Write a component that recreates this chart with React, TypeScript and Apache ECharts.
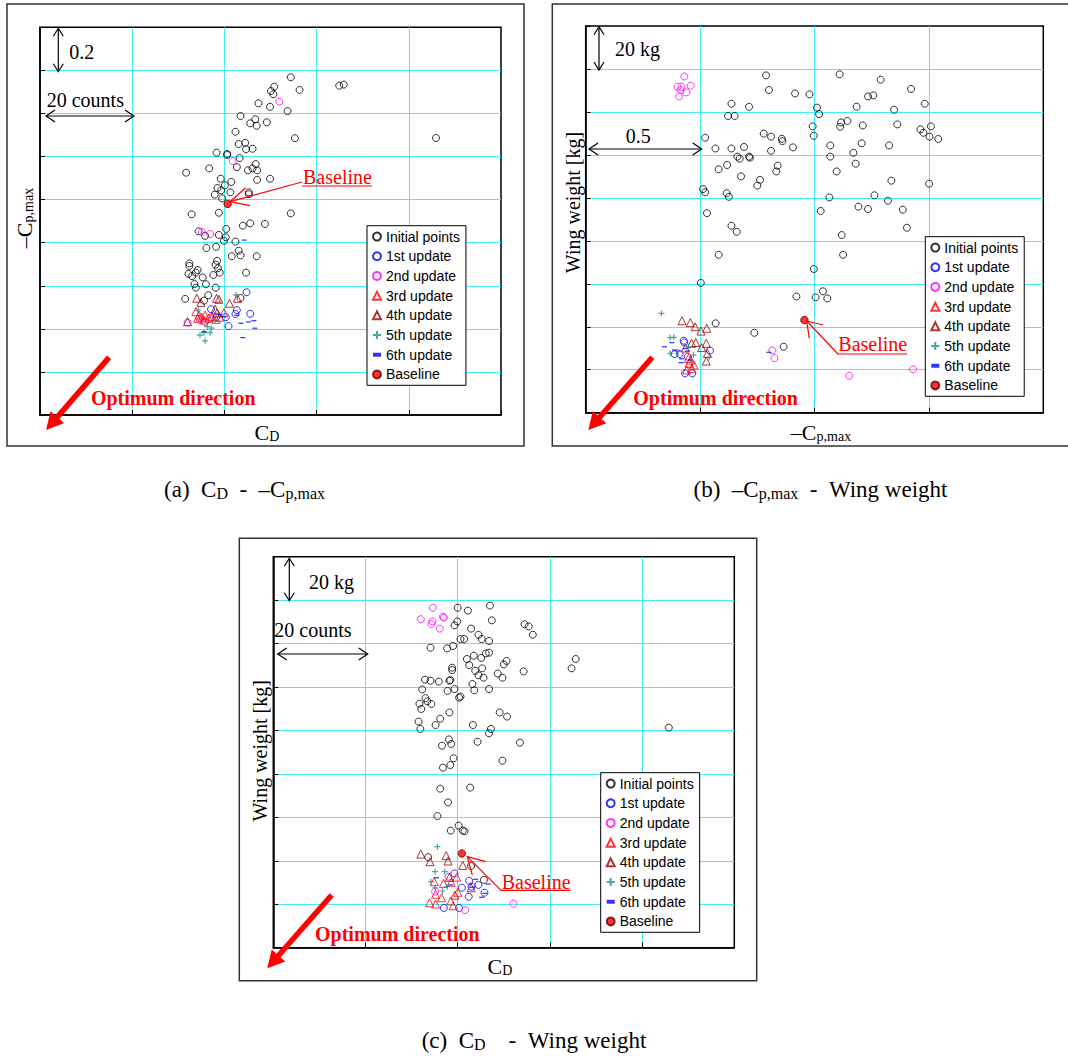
import React, { useEffect, useRef } from 'react';
import * as echarts from 'echarts';

const legendNames = ['Initial points', '1st update', '2nd update', '3rd update', '4th update', '5th update', '6th update', 'Baseline'];

// ---------- (a) CD [counts] vs -Cp,max ----------
const aInitial = [
  [54.4, 1.568], [50.8, 1.524], [50.1, 1.504], [50.6, 1.489], [56.3, 1.509], [64.9, 1.529], [65.9, 1.534],
  [47.4, 1.447], [49.9, 1.431], [53.7, 1.411], [43.5, 1.388], [45.6, 1.354], [46.7, 1.373], [47.0, 1.343],
  [49.2, 1.359], [42.4, 1.315], [55.3, 1.285], [85.9, 1.286], [43.1, 1.258], [44.5, 1.264], [44.7, 1.234],
  [46.1, 1.236], [38.3, 1.218], [40.6, 1.212], [40.6, 1.207], [43.3, 1.193], [46.8, 1.165], [42.7, 1.151],
  [45.1, 1.136], [46.1, 1.145], [47.1, 1.136], [31.7, 1.125], [36.7, 1.145], [49.9, 1.097], [47.1, 1.092],
  [39.2, 1.097], [41.5, 1.082], [40.1, 1.066], [38.5, 1.054], [39.3, 1.043], [41.3, 1.034], [37.9, 1.023],
  [45.3, 1.034], [45.3, 1.025], [39.5, 1.006], [32.9, 0.932], [38.8, 0.939], [54.4, 0.936], [44.0, 0.879],
  [45.6, 0.890], [48.8, 0.887], [34.4, 0.853], [35.8, 0.832], [38.8, 0.836], [40.4, 0.864], [39.9, 0.809],
  [40.3, 0.825], [42.4, 0.805], [38.2, 0.781], [36.1, 0.775], [43.1, 0.763], [43.5, 0.741], [41.6, 0.737],
  [47.0, 0.737], [38.4, 0.716], [32.4, 0.704], [32.4, 0.692], [38.1, 0.698], [34.2, 0.673], [32.2, 0.655],
  [33.8, 0.661], [33.0, 0.645], [38.6, 0.681], [39.0, 0.661], [37.6, 0.650], [35.3, 0.639], [44.7, 0.661],
  [33.5, 0.608], [33.8, 0.591], [36.0, 0.607], [38.1, 0.591], [36.5, 0.556], [35.6, 0.531], [31.5, 0.539],
  [43.5, 0.543],
];
const aUpdate1 = [[44.8, 0.570], [42.7, 0.487], [45.6, 0.470], [40.9, 0.413], [40.3, 0.454], [42.4, 0.469], [37.1, 0.491], [38.2, 0.452]];
const aUpdate2 = [[51.9, 1.455], [41.8, 1.179], [35.1, 0.850], [36.9, 0.840], [32.0, 0.429], [34.7, 0.441], [35.8, 0.432], [36.9, 0.450]];
const aUpdate3 = [[33.8, 0.480], [34.5, 0.464], [35.1, 0.454], [35.8, 0.464], [36.6, 0.449], [37.3, 0.456], [38.2, 0.444], [39.0, 0.454], [39.9, 0.475], [34.2, 0.449], [35.6, 0.441]];
const aUpdate4 = [[34.0, 0.542], [34.9, 0.523], [38.3, 0.542], [38.8, 0.537], [41.1, 0.519], [42.8, 0.542], [38.0, 0.491], [32.0, 0.433], [38.4, 0.474]];
const aUpdate5 = [[34.3, 0.487], [36.3, 0.410], [37.2, 0.403], [36.9, 0.382], [35.6, 0.382], [34.7, 0.371], [35.8, 0.344], [42.5, 0.557], [38.0, 0.441]];
const aUpdate6 = [[44.3, 0.812], [43.6, 0.426], [45.2, 0.432], [46.4, 0.438], [46.6, 0.403], [44.0, 0.359], [39.0, 0.466], [35.6, 0.387], [42.7, 0.463], [39.9, 0.456]];
const aBaseline = [[40.7, 0.980]];

// ---------- (b) -Cp,max vs Wing weight [kg] ----------
const bInitial = [
  [0.788, 157.0], [1.110, 157.5], [1.289, 155.0], [0.801, 150.2], [0.915, 148.6], [0.978, 148.2], [1.422, 150.7],
  [1.234, 147.2], [1.257, 147.7], [0.637, 143.8], [0.714, 142.4], [0.622, 138.1], [0.651, 138.1], [1.011, 142.0],
  [1.020, 139.0], [1.184, 142.4], [1.348, 141.0], [1.482, 143.8], [0.992, 133.3], [0.997, 128.9], [1.112, 133.1],
  [1.116, 135.1], [1.144, 135.8], [1.211, 133.7], [1.362, 134.2], [1.509, 133.3], [1.463, 131.9], [1.476, 130.3],
  [1.503, 128.5], [1.541, 127.4], [0.522, 128.0], [0.567, 123.0], [0.637, 123.0], [0.692, 123.7], [0.663, 119.2],
  [0.673, 118.2], [0.714, 119.2], [0.718, 118.7], [0.778, 129.9], [0.810, 128.5], [0.810, 121.9], [0.857, 127.5],
  [0.860, 126.4], [0.906, 123.5], [0.839, 115.0], [0.833, 112.3], [0.618, 115.3], [0.581, 113.3], [0.679, 110.0],
  [0.762, 108.4], [0.750, 105.7], [1.069, 124.4], [1.069, 119.2], [1.206, 125.4], [1.170, 121.0], [1.180, 115.9],
  [1.326, 124.4], [1.097, 112.3], [1.501, 106.6], [1.336, 108.0], [0.513, 104.1], [0.522, 102.6], [0.616, 102.2],
  [0.626, 100.5], [0.530, 92.9], [0.637, 87.0], [0.660, 84.2], [0.581, 73.5], [1.065, 100.2], [1.027, 93.9],
  [1.262, 101.2], [1.321, 98.7], [1.192, 95.9], [1.234, 94.8], [1.386, 94.5], [1.404, 86.1], [1.119, 82.7],
  [1.125, 73.5], [0.997, 66.9], [0.503, 60.4], [0.921, 54.1], [1.005, 53.7], [1.037, 56.5], [1.056, 53.2],
  [0.568, 41.6], [0.737, 37.2], [0.865, 30.7],
];
const bUpdate1 = [[0.428, 33.5], [0.431, 32.7], [0.389, 27.3], [0.411, 27.3], [0.543, 28.9], [0.434, 18.3], [0.466, 18.3], [0.446, 26.1]];
const bUpdate2 = [[0.431, 156.5], [0.402, 151.7], [0.418, 151.7], [0.459, 152.2], [0.415, 150.2], [0.440, 149.1], [0.408, 147.2], [0.816, 29.0], [0.825, 25.4], [1.152, 17.2], [1.431, 20.2]];
const bUpdate3 = [[0.436, 30.1], [0.449, 25.3], [0.459, 24.5], [0.473, 22.2], [0.441, 19.9], [0.463, 20.6], [0.452, 23.0]];
const bUpdate4 = [[0.421, 42.8], [0.457, 41.9], [0.478, 40.0], [0.504, 38.0], [0.529, 39.3], [0.481, 32.7], [0.527, 32.3], [0.507, 30.3], [0.532, 27.6], [0.527, 24.0], [0.463, 32.3]];
const bUpdate5 = [[0.331, 46.2], [0.369, 34.9], [0.385, 35.1], [0.402, 28.4], [0.370, 27.6], [0.471, 26.8], [0.540, 25.8], [0.449, 30.7]];
const bUpdate6 = [[0.344, 30.7], [0.376, 32.6], [0.388, 29.2], [0.420, 25.1], [0.417, 23.3], [0.444, 28.7], [0.459, 24.5], [0.801, 28.1], [0.434, 29.9]];
const bBaseline = [[0.956, 43.1]];

// ---------- (c) CD [counts] vs Wing weight [kg] ----------
const cInitial = [
  [40.0, 156.5], [42.2, 155.2], [47.0, 157.5], [47.4, 150.7], [39.3, 148.4], [39.9, 150.2], [42.9, 146.9],
  [44.5, 144.0], [45.2, 142.1], [46.8, 141.2], [40.6, 142.1], [41.4, 142.1], [54.5, 148.9], [55.4, 147.9],
  [56.3, 144.1], [34.1, 138.1], [37.7, 137.8], [39.0, 138.9], [42.0, 132.9], [43.5, 134.4], [42.5, 130.1],
  [45.1, 133.4], [46.1, 135.5], [46.8, 135.8], [45.3, 128.6], [43.8, 127.5], [44.5, 125.4], [45.6, 124.3],
  [38.8, 128.9], [38.8, 127.8], [50.0, 130.4], [50.6, 132.0], [54.3, 127.2], [48.7, 126.2], [49.7, 124.3],
  [64.7, 128.6], [65.6, 132.9], [32.9, 123.4], [34.1, 122.9], [35.9, 122.5], [38.2, 122.9], [38.4, 123.2],
  [32.3, 118.9], [37.8, 118.2], [39.3, 119.1], [43.2, 121.4], [43.6, 118.5], [46.8, 119.1], [40.6, 115.6],
  [40.3, 115.1], [33.0, 114.9], [33.4, 113.4], [31.7, 112.3], [32.1, 109.9], [34.3, 112.2], [38.2, 108.3],
  [49.1, 108.3], [50.7, 106.4], [31.5, 104.1], [31.9, 100.7], [36.2, 105.4], [35.2, 102.5], [43.3, 102.5],
  [47.2, 100.7], [46.8, 98.7], [85.8, 101.3], [38.1, 95.9], [38.6, 93.8], [36.6, 93.0], [44.3, 94.8],
  [53.5, 94.4], [39.1, 87.2], [38.4, 84.1], [36.8, 82.9], [49.7, 86.1], [36.2, 73.2], [42.7, 73.7],
  [37.9, 66.9], [35.6, 60.6], [40.2, 56.2], [38.5, 53.9], [41.1, 53.9], [41.5, 53.6], [33.6, 41.7],
  [42.9, 37.6], [45.7, 31.2],
];
const cUpdate1 = [[39.3, 34.2], [42.5, 30.8], [40.9, 27.6], [44.5, 28.9], [45.8, 25.3], [42.4, 23.5], [37.0, 18.3], [40.3, 18.3], [43.0, 28.1]];
const cUpdate2 = [[34.6, 156.5], [32.0, 151.2], [34.3, 149.0], [34.5, 150.2], [36.8, 152.4], [37.0, 151.9], [36.1, 146.9], [35.1, 25.8], [41.6, 17.3], [52.1, 20.3], [38.0, 32.7]];
const cUpdate3 = [[34.9, 30.4], [36.9, 29.6], [38.6, 30.1], [39.8, 32.5], [35.2, 24.6], [36.5, 23.0], [33.9, 20.7], [35.2, 20.1], [38.5, 21.5], [39.0, 19.3], [40.0, 25.5]];
const cUpdate4 = [[32.0, 43.1], [34.0, 39.6], [37.5, 42.4], [37.9, 39.9], [41.1, 37.9], [38.2, 32.4], [42.9, 27.6], [39.4, 24.2]];
const cUpdate5 = [[35.6, 46.5], [35.1, 35.0], [37.2, 35.0], [34.2, 30.4], [35.1, 27.6], [36.7, 26.1], [37.7, 28.1]];
const cUpdate6 = [[35.4, 32.2], [43.9, 31.5], [46.6, 29.3], [45.2, 23.2], [45.9, 25.0], [38.5, 28.9], [43.2, 27.8]];
const cBaseline = [[40.9, 43.4]];

// axis ranges (no tick labels are shown in the figure)
const cdAxis = { min: 0, max: 100, interval: 20 };
const cpAxisA = { min: 0, max: 1.8, interval: 0.2 };
const cpAxisB = { min: 0, max: 2.0, interval: 0.5 };
const wAxis = { min: 0, max: 180, interval: 20 };

const SERIF = 'Liberation Serif';
const SANS = 'Liberation Sans';
const SP = '\u2002';

const seriesStyles: any[] = [
  { symbol: 'circle', symbolSize: 7, itemStyle: { color: 'rgba(255,255,255,0)', borderColor: '#000000', borderWidth: 1 } },
  { symbol: 'circle', symbolSize: 7, itemStyle: { color: 'rgba(255,255,255,0)', borderColor: '#0000ff', borderWidth: 1 } },
  { symbol: 'circle', symbolSize: 7, itemStyle: { color: 'rgba(255,255,255,0)', borderColor: '#ff00ff', borderWidth: 1 } },
  { symbol: 'triangle', symbolSize: 8, itemStyle: { color: 'rgba(255,255,255,0)', borderColor: '#ff0000', borderWidth: 1 } },
  { symbol: 'triangle', symbolSize: 8, itemStyle: { color: 'rgba(255,255,255,0)', borderColor: '#990000', borderWidth: 1 } },
  { symbol: 'path://M0,5L10,5M5,0L5,10', symbolSize: 6, itemStyle: { color: 'rgba(0,0,0,0)', borderColor: '#1f8f8f', borderWidth: 1.2 } },
  { symbol: 'path://M0,0L5,0L5,2.5L0,2.5Z', symbolSize: [5, 2.5], symbolKeepAspect: true, itemStyle: { color: '#0000ff' } },
  { symbol: 'circle', symbolSize: 7.5, itemStyle: { color: '#ff0000', borderColor: '#660000', borderWidth: 1 } },
];

let measureCtx: CanvasRenderingContext2D | null = null;
function measure(text: string, size: number, family: string, weight = 'normal') {
  if (!measureCtx) measureCtx = document.createElement('canvas').getContext('2d');
  measureCtx!.font = `${weight} ${size}px "${family}"`;
  return measureCtx!.measureText(text).width;
}

type Part = { t: string; s: number; dy?: number };
function runEls(parts: Part[], x0: number, yc: number, family = SERIF, fill = '#000', weight = 'normal') {
  let x = x0;
  const els: any[] = [];
  for (const p of parts) {
    els.push({
      type: 'text', x, y: yc + (p.dy || 0), z: 50, silent: true,
      style: { text: p.t, fontSize: p.s, fontFamily: family, fontWeight: weight, fill, textAlign: 'left', textVerticalAlign: 'middle', align: 'left', verticalAlign: 'middle' },
    });
    x += measure(p.t, p.s, family, weight);
  }
  return els;
}
function runWidth(parts: Part[], family = SERIF, weight = 'normal') {
  return parts.reduce((s, p) => s + measure(p.t, p.s, family, weight), 0);
}
function centered(parts: Part[], cx: number, yc: number, family = SERIF) {
  return runEls(parts, cx - runWidth(parts, family) / 2, yc, family);
}
function rotated(parts: Part[], cx: number, cy: number) {
  return { type: 'group', x: cx, y: cy, rotation: Math.PI / 2, children: centered(parts, 0, 0) };
}

function line(x1: number, y1: number, x2: number, y2: number, color = '#000', w = 1.2) {
  return { type: 'line', z: 50, silent: true, shape: { x1, y1, x2, y2 }, style: { stroke: color, lineWidth: w } };
}
function poly(points: number[][], color = '#000', w = 1.2) {
  return { type: 'polyline', z: 50, silent: true, shape: { points }, style: { stroke: color, lineWidth: w, fill: null } };
}
function dblArrow(x1: number, y1: number, x2: number, y2: number, h = 8, hw = 5) {
  const L = Math.hypot(x2 - x1, y2 - y1);
  const ux = (x2 - x1) / L, uy = (y2 - y1) / L;
  const nx = -uy, ny = ux;
  return [
    line(x1, y1, x2, y2),
    poly([[x1 + h * ux + hw * nx, y1 + h * uy + hw * ny], [x1, y1], [x1 + h * ux - hw * nx, y1 + h * uy - hw * ny]]),
    poly([[x2 - h * ux + hw * nx, y2 - h * uy + hw * ny], [x2, y2], [x2 - h * ux - hw * nx, y2 - h * uy - hw * ny]]),
  ];
}
function bigArrow(x1: number, y1: number, x2: number, y2: number) {
  const L = Math.hypot(x2 - x1, y2 - y1);
  const ux = (x2 - x1) / L, uy = (y2 - y1) / L;
  const nx = -uy, ny = ux;
  const h = 17, hw = 9;
  const bx = x2 - h * ux, by = y2 - h * uy;
  return [
    line(x1, y1, bx + 2 * ux, by + 2 * uy, '#ff0000', 5.5),
    { type: 'polygon', z: 50, silent: true, shape: { points: [[x2, y2], [bx + hw * nx, by + hw * ny], [bx - hw * nx, by - hw * ny]] }, style: { fill: '#ff0000' } },
  ];
}
function callout(tx: number, ty: number, ulY: number, lx: number, ly: number, tipX: number, tipY: number, w1: number[], w2: number[]) {
  const tw = measure('Baseline', 20, SERIF);
  return [
    ...runEls([{ t: 'Baseline', s: 20 }], tx, ty, SERIF, '#ff0000'),
    line(tx - 1, ulY, tx + tw, ulY, '#ff0000', 1.2),
    line(lx, ly, tipX, tipY, '#ff0000', 1.2),
    poly([w1, [tipX, tipY], w2], '#ff0000', 1.2),
  ];
}
function optimum(x: number, y: number) {
  return runEls([{ t: 'Optimum direction', s: 20 }], x, y, SERIF, '#ff0000', 'bold');
}
function frame(x: number, y: number, w: number, h: number) {
  return { type: 'rect', z: 40, silent: true, shape: { x, y, width: w, height: h }, style: { fill: null, stroke: '#333', lineWidth: 1.5 } };
}

const panels = [
  { grid: { left: 40, top: 27.3, width: 461, height: 387.7 }, x: cdAxis, y: cpAxisA, legend: { left: 367, top: 225.7 },
    data: [aInitial, aUpdate1, aUpdate2, aUpdate3, aUpdate4, aUpdate5, aUpdate6, aBaseline] },
  { grid: { left: 585.7, top: 26, width: 457.6, height: 386.7 }, x: cpAxisB, y: wAxis, legend: { left: 925.3, top: 236.7 },
    data: [bInitial, bUpdate1, bUpdate2, bUpdate3, bUpdate4, bUpdate5, bUpdate6, bBaseline] },
  { grid: { left: 273.3, top: 556.7, width: 461, height: 391 }, x: cdAxis, y: wAxis, legend: { left: 600.7, top: 772.7 },
    data: [cInitial, cUpdate1, cUpdate2, cUpdate3, cUpdate4, cUpdate5, cUpdate6, cBaseline] },
];

function axisOpt(gridIndex: number, r: { min: number; max: number; interval: number }) {
  return {
    type: 'value', gridIndex, min: r.min, max: r.max, interval: r.interval,
    axisLine: { show: true, onZero: false, lineStyle: { color: '#000', width: 1.5 } },
    axisTick: { show: true, inside: true, length: 5, lineStyle: { color: '#000', width: 1 } },
    axisLabel: { show: false },
    splitLine: { show: true, showMinLine: false, showMaxLine: false, lineStyle: { color: '#44eef2', width: 1 } },
  };
}

function buildOption() {
  const graphics: any[] = [
    frame(7, 4, 517, 442),
    frame(552.3, 4, 540, 442),
    frame(239.3, 538.3, 517.4, 442.4),
    // (a)
    ...dblArrow(58.3, 28.3, 58.3, 71.7),
    ...runEls([{ t: '0.2', s: 20 }], 69.3, 51.7),
    ...runEls([{ t: '20 counts', s: 20 }], 46.7, 100),
    ...dblArrow(46, 116, 134, 116, 9, 6),
    ...centered([{ t: 'C', s: 22 }, { t: 'D', s: 14, dy: 4 }], 267, 432),
    rotated([{ t: '\u2013C', s: 22 }, { t: 'p,max', s: 14, dy: 4 }], 24, 218),
    ...callout(303, 177, 186, 302, 182, 230, 201.7, [245.7, 187.7], [250, 205.7]),
    ...optimum(90.9, 398.4),
    ...bigArrow(109.1, 357.4, 46.1, 430),
    // (b)
    ...dblArrow(599, 26.7, 599, 70),
    ...runEls([{ t: '20 kg', s: 20 }], 615, 49.3),
    ...runEls([{ t: '0.5', s: 20 }], 625.7, 136),
    ...dblArrow(589, 149, 701.7, 149, 9, 6),
    ...centered([{ t: '\u2013C', s: 22 }, { t: 'p,max', s: 14, dy: 4 }], 821, 432.7),
    rotated([{ t: 'Wing weight [kg]', s: 20 }], 573.3, 202.5),
    ...callout(838.3, 344.3, 354, 838, 354, 806.7, 321, [823.3, 325], [809.3, 338.3]),
    ...optimum(633.3, 398.3),
    ...bigArrow(652.3, 357.3, 588.3, 430),
    // (c)
    ...dblArrow(289.3, 558.3, 289.3, 600.7),
    ...runEls([{ t: '20 kg', s: 20 }], 309, 581.7),
    ...runEls([{ t: '20 counts', s: 20 }], 274.3, 630),
    ...dblArrow(277.7, 654, 367.7, 654, 9, 6),
    ...centered([{ t: 'C', s: 22 }, { t: 'D', s: 14, dy: 4 }], 500, 966.7),
    rotated([{ t: 'Wing weight [kg]', s: 20 }], 260, 750.8),
    ...callout(501.7, 881.7, 890.3, 501, 890.3, 467.3, 856.7, [485.7, 861.7], [472.3, 875]),
    ...optimum(315, 934.3),
    ...bigArrow(331.7, 895, 267.3, 968.3),
    // captions
    ...centered([{ t: `(a)${SP}C`, s: 23 }, { t: 'D', s: 16, dy: 4 }, { t: `${SP}-${SP}\u2013C`, s: 23 }, { t: 'p,max', s: 16, dy: 4 }], 244.5, 489),
    ...centered([{ t: `(b)${SP}\u2013C`, s: 23 }, { t: 'p,max', s: 16, dy: 4 }, { t: `${SP}-${SP}Wing weight`, s: 23 }], 820.5, 489),
    ...centered([{ t: `(c)${SP}C`, s: 23 }, { t: 'D', s: 16, dy: 4 }, { t: `${SP}${SP}-${SP}Wing weight`, s: 23 }], 534, 1040),
  ];

  const series: any[] = [];
  panels.forEach((p, pi) => {
    p.data.forEach((d, si) => {
      series.push({
        type: 'scatter', name: legendNames[si], xAxisIndex: pi, yAxisIndex: pi, data: d, silent: true,
        z: 2 + si * 0.01, ...seriesStyles[si],
      });
    });
  });

  return {
    animation: false,
    backgroundColor: '#ffffff',
    grid: panels.map((p) => ({ ...p.grid, show: true, borderColor: '#000', borderWidth: 1.5, backgroundColor: 'rgba(0,0,0,0)' })),
    xAxis: panels.map((p, i) => axisOpt(i, p.x)),
    yAxis: panels.map((p, i) => axisOpt(i, p.y)),
    legend: panels.map((p) => ({
      orient: 'vertical', left: p.legend.left, top: p.legend.top,
      itemWidth: 8, itemHeight: 8, itemGap: 0, padding: [1, 6, 1, 5],
      borderColor: '#000', borderWidth: 1, backgroundColor: '#ffffff', selectedMode: false,
      textStyle: { fontFamily: SANS, fontSize: 14, color: '#000', lineHeight: 19.7 },
      data: legendNames,
    })),
    series,
    graphic: { elements: graphics },
  };
}

export default function App() {
  const ref = useRef<HTMLDivElement>(null);
  useEffect(() => {
    document.body.style.margin = '0';
    const chart = echarts.init(ref.current!, undefined, { renderer: 'svg' });
    chart.setOption(buildOption() as any);
    return () => chart.dispose();
  }, []);
  return <div ref={ref} style={{ width: 1068, height: 1056, background: '#fff' }} />;
}
